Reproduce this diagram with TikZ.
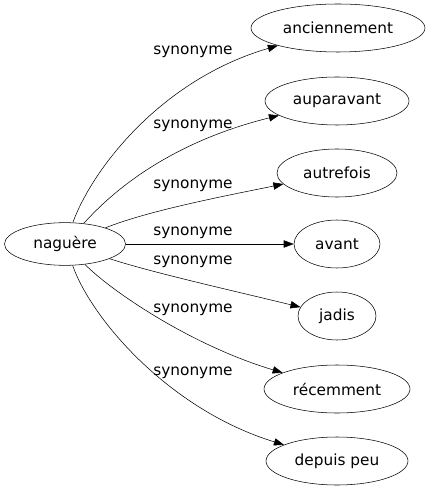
\documentclass[tikz,border=0pt]{standalone}
\usepackage{fontspec}
\setmainfont{DejaVu Sans}
\usetikzlibrary{arrows.meta,shapes.geometric}

\tikzset{
  word/.style={draw, shape=ellipse, inner sep=0pt, minimum height=36pt, minimum width=#1*0.75pt, font=\fontsize{11.5}{13}\selectfont},
  rel/.style={font=\fontsize{11.5}{13}\selectfont},
  syn/.style={->, >={Triangle[length=7.5pt,width=5.5pt]}}
}

\begin{document}
\begin{tikzpicture}[x=0.75pt,y=-0.75pt]
\useasboundingbox (0,0) rectangle (429,491);
\node[word=121, minimum height=32pt] (naguere) at (65,244) {naguère};
\node[word=174] (anciennement) at (338,28) {anciennement};
\node[word=144] (auparavant) at (337,101) {auparavant};
\node[word=120] (autrefois) at (337,173) {autrefois};
\node[word=86] (avant) at (337,244) {avant};
\node[word=78] (jadis) at (337,316) {jadis};
\node[word=146] (recemment) at (337,389) {récemment};
\node[word=142] (depuispeu) at (337,461) {depuis peu};

\node[rel] (l1) at (193,52) {synonyme};
\node[rel] (l2) at (193,126) {synonyme};
\node[rel] (l3) at (193,186) {synonyme};
\node[rel] (l4) at (193,233) {synonyme};
\node[rel] (l5) at (193,262) {synonyme};
\node[rel] (l6) at (193,310) {synonyme};
\node[rel] (l7) at (193,373) {synonyme};

\draw[syn] (naguere) .. controls (92,170) and (160,80) .. (anciennement);
\draw[syn] (naguere) .. controls (105,200) and (160,145) .. (auparavant);
\draw[syn] (naguere) .. controls (150,210) and (230,195) .. (autrefois);
\draw[syn] (naguere) -- (avant);
\draw[syn] (naguere) .. controls (150,272) and (230,290) .. (jadis);
\draw[syn] (naguere) .. controls (110,290) and (190,345) .. (recemment);
\draw[syn] (naguere) .. controls (92,320) and (170,410) .. (depuispeu);
\end{tikzpicture}
\end{document}
